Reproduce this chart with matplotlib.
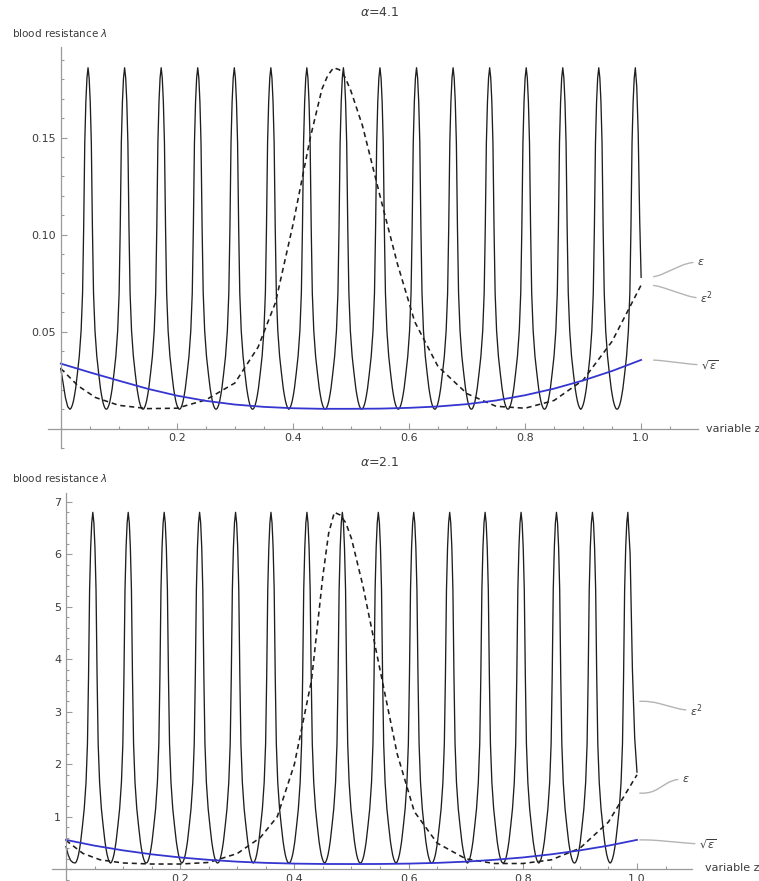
import matplotlib
matplotlib.use("Agg")
import matplotlib.pyplot as plt
from matplotlib.ticker import MultipleLocator, FuncFormatter

W, H = 759, 881

# ---- shared shape of one oscillation (distance from a peak in periods, normalised level)
PROFILE_PHASE = [0.00, 0.03, 0.06, 0.09, 0.12, 0.15, 0.19, 0.24, 0.29, 0.34, 0.37, 0.40,
                 0.43, 0.46, 0.48, 0.50]
PROFILE_LEVEL = [1.00, 0.97, 0.90, 0.78, 0.53, 0.34, 0.23, 0.155, 0.106, 0.061, 0.041, 0.024,
                 0.012, 0.004, 0.001, 0.00]

# ---- top panel, alpha = 4.1
TOP_PEAKS = [0.047, 0.110, 0.173, 0.236, 0.299, 0.362, 0.424, 0.487,
             0.550, 0.613, 0.676, 0.739, 0.802, 0.865, 0.927, 0.990]
TOP_PERIOD = 0.0629
TOP_PEAK, TOP_TROUGH = 0.186, 0.0100
TOP_HEAD_Z = [0.0, 0.004, 0.008, 0.012, 0.0155]
TOP_HEAD_V = [0.031, 0.0235, 0.016, 0.0113, 0.0100]
TOP_TAIL_Z = [0.9925, 0.995, 0.9975, 1.0]
TOP_TAIL_V = [0.176, 0.152, 0.108, 0.078]

DASH_Z = [0.00, 0.03, 0.06, 0.10, 0.15, 0.20, 0.25, 0.30, 0.34, 0.37, 0.40, 0.43, 0.45, 0.46,
          0.47, 0.48, 0.49, 0.50, 0.52, 0.55, 0.58, 0.61, 0.65, 0.70, 0.75, 0.80, 0.85, 0.90,
          0.95, 1.00]
TOP_DASH_V = [0.031, 0.022, 0.016, 0.012, 0.0103, 0.0105, 0.0148, 0.0235, 0.042, 0.065, 0.105,
              0.150, 0.175, 0.182, 0.186, 0.185, 0.181, 0.174, 0.156, 0.120, 0.085, 0.055,
              0.032, 0.018, 0.0115, 0.0105, 0.0145, 0.025, 0.045, 0.074]

BLUE_Z = [0.00, 0.05, 0.10, 0.15, 0.20, 0.25, 0.30, 0.35, 0.40, 0.45, 0.50,
          0.55, 0.60, 0.65, 0.70, 0.75, 0.80, 0.85, 0.90, 0.95, 1.00]
TOP_BLUE_V = [0.0335, 0.0290, 0.0247, 0.0205, 0.0170, 0.0143, 0.0124, 0.0112, 0.0105, 0.0102,
              0.0102, 0.0103, 0.0107, 0.0114, 0.0126, 0.0145, 0.0172, 0.0206, 0.0248, 0.0297,
              0.0354]

# ---- bottom panel, alpha = 2.1
BOT_PEAKS = [0.047, 0.109, 0.172, 0.234, 0.297, 0.359, 0.422, 0.484,
             0.547, 0.609, 0.672, 0.734, 0.797, 0.859, 0.922, 0.984]
BOT_PERIOD = 0.0625
BOT_PEAK, BOT_TROUGH = 6.8, 0.12
BOT_HEAD_Z = [0.0, 0.004, 0.008, 0.012, 0.0155]
BOT_HEAD_V = [0.43, 0.27, 0.17, 0.13, 0.12]
BOT_TAIL_Z = [0.988, 0.992, 0.996, 1.0]
BOT_TAIL_V = [6.0, 3.8, 2.5, 1.85]

BOT_DASH_V = [0.55, 0.30, 0.18, 0.12, 0.10, 0.10, 0.13, 0.30, 0.60, 1.00, 2.0, 3.6, 5.6, 6.4,
              6.8, 6.75, 6.6, 6.3, 5.4, 3.8, 2.2, 1.1, 0.50, 0.20, 0.11, 0.11, 0.18, 0.40,
              0.90, 1.80]
BOT_BLUE_V = [0.56, 0.45, 0.36, 0.285, 0.225, 0.18, 0.145, 0.122, 0.108, 0.101, 0.100,
              0.101, 0.108, 0.122, 0.145, 0.18, 0.225, 0.285, 0.36, 0.45, 0.56]

AXIS_GREY = "#9a9a9a"
TEXT_GREY = "#3c3c3c"
BLUE = "#3535d0"


def oscillation(peaks, period, peak_v, trough_v, head_z, head_v, tail_z, tail_v):
    pts = []
    for p0 in peaks:
        for ph, lv in zip(PROFILE_PHASE, PROFILE_LEVEL):
            val = trough_v + lv * (peak_v - trough_v)
            pts.append((round(p0 - ph * period, 6), val))
            pts.append((round(p0 + ph * period, 6), val))
    pts = sorted(dict(p for p in pts if head_z[-1] < p[0] <= peaks[-1]).items())
    z = list(head_z) + [p[0] for p in pts] + list(tail_z)
    v = list(head_v) + [p[1] for p in pts] + list(tail_v)
    return z, v


def style_axes(ax, ymajor, yminor, yfmt):
    for side in ["top", "right"]:
        ax.spines[side].set_visible(False)
    for side in ["left", "bottom"]:
        ax.spines[side].set_position(("data", 0))
        ax.spines[side].set_color(AXIS_GREY)
        ax.spines[side].set_linewidth(0.9)
    ax.set_xticks([0.2, 0.4, 0.6, 0.8, 1.0])
    ax.xaxis.set_minor_locator(MultipleLocator(0.05))
    ax.xaxis.set_major_formatter(FuncFormatter(lambda x, _: f"{x:.1f}"))
    ax.yaxis.set_major_locator(MultipleLocator(ymajor))
    ax.yaxis.set_minor_locator(MultipleLocator(yminor))
    ax.yaxis.set_major_formatter(FuncFormatter(lambda y, _: "" if abs(y) < 1e-9 else yfmt % y))
    ax.tick_params(which="both", direction="in", color=AXIS_GREY, width=0.8,
                   labelcolor=TEXT_GREY, labelsize=8)
    ax.tick_params(which="major", length=4.5)
    ax.tick_params(which="minor", length=2.5)
    ax.patch.set_visible(False)


def callout(ax, text, xy, dx, dy, gap):
    ax.annotate(text, xy=xy, xycoords="data", xytext=(dx, dy), textcoords="offset pixels",
                ha="left", va="center", fontsize=8, color=TEXT_GREY, annotation_clip=False,
                arrowprops=dict(arrowstyle="-", color="#b4b4b4", lw=1.0, shrinkA=1, shrinkB=gap,
                                connectionstyle="arc,angleA=180,angleB=0,armA=12,armB=14,rad=8"))


def px_box(left, right, top, bottom):
    return [left / W, 1 - bottom / H, (right - left) / W, (bottom - top) / H]


fig = plt.figure(figsize=(W / 100, H / 100), dpi=100)

# top panel
ax1 = fig.add_axes(px_box(48, 698, 47, 448))
ax1.set_xlim(-0.022, 1.098)
ax1.set_ylim(-0.0100, 0.1967)
z, v = oscillation(TOP_PEAKS, TOP_PERIOD, TOP_PEAK, TOP_TROUGH,
                   TOP_HEAD_Z, TOP_HEAD_V, TOP_TAIL_Z, TOP_TAIL_V)
ax1.plot(z, v, color="#1e1e1e", lw=0.95, clip_on=False)
ax1.plot(DASH_Z, TOP_DASH_V, color="#1e1e1e", lw=1.15, ls=(0, (3.2, 2.4)), clip_on=False)
ax1.plot(BLUE_Z, TOP_BLUE_V, color=BLUE, lw=1.3, clip_on=False)
style_axes(ax1, 0.05, 0.01, "%.2f")
callout(ax1, r"$\varepsilon$", (1.0, TOP_TAIL_V[-1]), 56, 15, 9)
callout(ax1, r"$\varepsilon^2$", (1.0, TOP_DASH_V[-1]), 59, -13, 9)
callout(ax1, r"$\sqrt{\varepsilon}$", (1.0, TOP_BLUE_V[-1]), 60, -5, 9)

# bottom panel
ax2 = fig.add_axes(px_box(51.7, 691.8, 492.9, 880.3))
ax2.set_xlim(-0.025, 1.096)
ax2.set_ylim(-0.21, 7.17)
z, v = oscillation(BOT_PEAKS, BOT_PERIOD, BOT_PEAK, BOT_TROUGH,
                   BOT_HEAD_Z, BOT_HEAD_V, BOT_TAIL_Z, BOT_TAIL_V)
ax2.plot(z, v, color="#1e1e1e", lw=0.95, clip_on=False)
ax2.plot(DASH_Z, BOT_DASH_V, color="#1e1e1e", lw=1.15, ls=(0, (3.2, 2.4)), clip_on=False)
ax2.plot(BLUE_Z, BOT_BLUE_V, color=BLUE, lw=1.3, clip_on=False)
style_axes(ax2, 1, 0.2, "%d")
callout(ax2, r"$\varepsilon^2$", (1.0, 3.2), 53, -9, 2)
callout(ax2, r"$\varepsilon$", (1.0, 1.45), 45, 14, 2)
callout(ax2, r"$\sqrt{\varepsilon}$", (1.0, BOT_BLUE_V[-1]), 62, -4, 2)

# texts
fig.text(380 / W, 1 - 12 / H, r"$\alpha$=4.1", ha="center", va="center", fontsize=9, color=TEXT_GREY)
fig.text(380 / W, 1 - 463 / H, r"$\alpha$=2.1", ha="center", va="center", fontsize=9, color=TEXT_GREY)
fig.text(12 / W, 1 - 33 / H, r"blood resistance $\lambda$", ha="left", va="center", fontsize=7.5, color=TEXT_GREY)
fig.text(12 / W, 1 - 478 / H, r"blood resistance $\lambda$", ha="left", va="center", fontsize=7.5, color=TEXT_GREY)
fig.text(706 / W, 1 - 429 / H, "variable z", ha="left", va="center", fontsize=8, color=TEXT_GREY)
fig.text(705 / W, 1 - 868 / H, "variable z", ha="left", va="center", fontsize=8, color=TEXT_GREY)

fig.savefig("out.png", dpi=100)
